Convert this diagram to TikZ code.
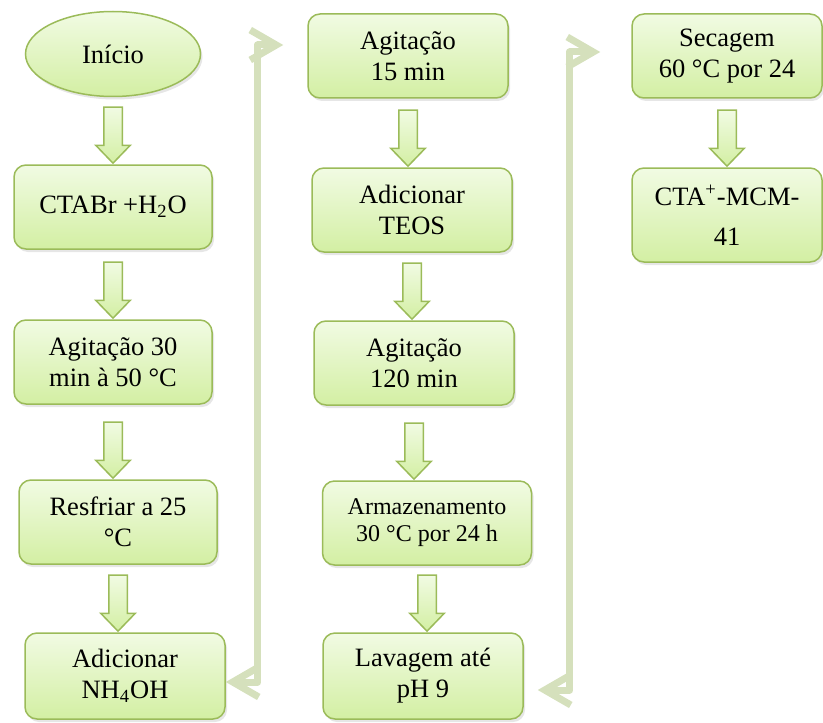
\documentclass[tikz,border=0pt]{standalone}
\usepackage{fontspec}
\setmainfont{LiberationSerif}[Extension=.ttf, UprightFont=*-Regular, BoldFont=*-Bold]
\usetikzlibrary{shapes.geometric, shapes.arrows, shadows, arrows.meta}

\definecolor{boxline}{HTML}{9BBB59}
\definecolor{boxtop}{HTML}{F1FBE3}
\definecolor{boxbottom}{HTML}{D3EFA3}
\definecolor{linkgreen}{HTML}{D5E0BC}

\tikzset{
    stepbox/.style = {draw=boxline, line width=0.75pt, rounded corners=6pt,
        top color=boxtop, bottom color=boxbottom,
        minimum width=99pt, minimum height=42pt, inner sep=0, align=center,
        font=\fontsize{13.25pt}{15.5pt}\selectfont,
        drop shadow={opacity=0.2, shadow xshift=1pt, shadow yshift=-1.5pt}},
    startnode/.style = {stepbox, ellipse, rounded corners=0,
        minimum width=87.5pt, minimum height=42.5pt},
    downarrow/.style = {single arrow, shape border rotate=270,
        draw=boxline, line width=0.75pt, top color=boxtop, bottom color=boxbottom,
        minimum height=28pt, inner sep=4.25pt,
        single arrow head extend=4pt, single arrow tip angle=88},
    link/.style = {draw=linkgreen, line width=3.5pt, line cap=round, line join=round,
        {Straight Barb[length=13pt, width=15pt]}-{Straight Barb[length=13pt, width=15pt]}}
}

\begin{document}
\begin{tikzpicture}[x=0.5pt, y=-0.5pt]
    \useasboundingbox (0,0) rectangle (823,722);

    % first column
    \node[startnode] (start) at (113,54) {Início};
    \node[stepbox] (ctab) at (113,207) {CTABr +H\textsubscript{2}O};
    \node[stepbox] (agit30) at (113,362) {Agitação 30\\min à 50 °C};
    \node[stepbox] (cool) at (118,522) {Resfriar a 25\\°C};
    \node[stepbox, minimum width=100pt, minimum height=43pt] (nh) at (125,676) {Adicionar\\NH\textsubscript{4}OH};

    % second column
    \node[stepbox, minimum width=100pt] (agit15) at (408,56) {Agitação\\15 min};
    \node[stepbox, minimum width=100pt] (teos) at (412,210) {Adicionar\\TEOS};
    \node[stepbox, minimum width=100pt] (agit120) at (414,363) {Agitação\\120 min};
    \node[stepbox, minimum width=104.5pt, font=\fontsize{12pt}{13.5pt}\selectfont] (store) at (427,523) {Armazenamento\\30 °C por 24 h};
    \node[stepbox, minimum width=100pt, minimum height=43pt] (wash) at (423,676) {Lavagem até\\pH 9};

    % third column
    \node[stepbox, minimum width=95pt] (dry) at (727,56) {Secagem\\60 °C por 24};
    \node[stepbox, minimum width=95pt, minimum height=47pt,
        font=\fontsize{13.25pt}{20pt}\selectfont] (prod) at (727,215) {CTA\textsuperscript{+}-MCM-\\41};

    % block arrows
    \foreach \a/\b in {start/ctab, ctab/agit30, agit30/cool, cool/nh,
            agit15/teos, teos/agit120, agit120/store, store/wash, dry/prod}
        \path (\a.south) -- (\a.south |- \b.north) node[downarrow, pos=1, anchor=tip] {};

    % links between columns
    \draw[link] ([shift={(0,6)}]nh.east) -- ++(32,0) |- ([shift={(-24,-11)}]agit15.west);
    \draw[link] ([shift={(14,14)}]wash.east) -- ++(32,0) |- ([shift={(-31,-4)}]dry.west);
\end{tikzpicture}
\end{document}
